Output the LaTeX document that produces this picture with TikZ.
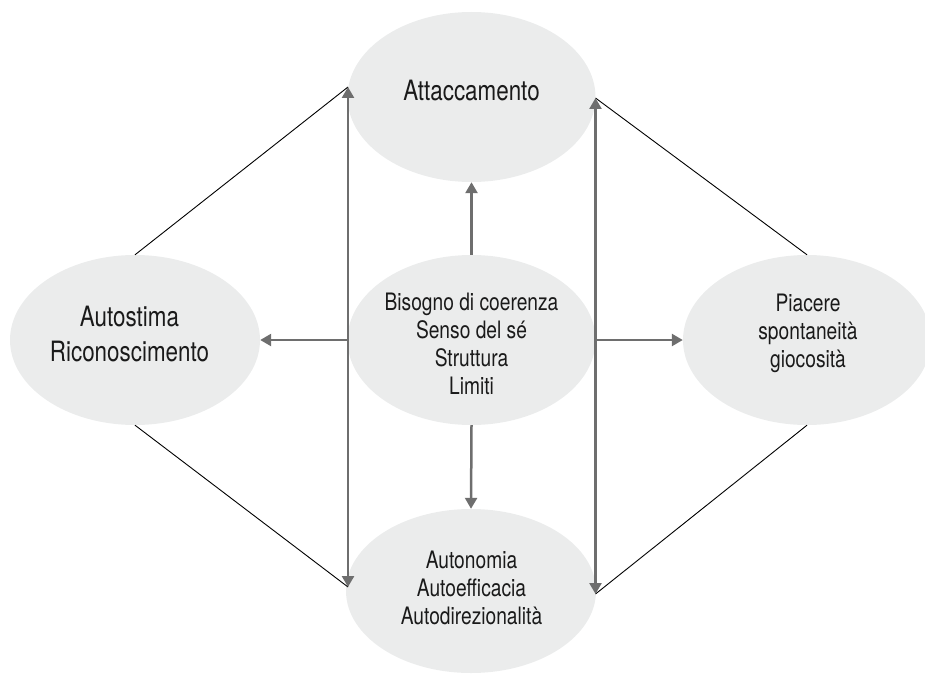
\documentclass[tikz,border=0pt]{standalone}
\usepackage{fontspec}
\setmainfont{TeX Gyre Heros}[FakeStretch=0.8]
\usetikzlibrary{shapes.geometric,arrows.meta}
\definecolor{ellfill}{HTML}{EBECEC}
\definecolor{arrgray}{HTML}{6E6E6E}
\definecolor{txt}{HTML}{1A1A1A}
\tikzset{
  bubble/.style={ellipse,fill=ellfill,draw=none,inner sep=0pt,minimum width=248pt,minimum height=170pt},
  smalltxt/.style={align=center,text=txt,inner sep=0pt,font=\fontsize{24pt}{28pt}\selectfont},
  bigtxt/.style={align=center,text=txt,inner sep=0pt,font=\fontsize{28pt}{35pt}\selectfont},
  garrow/.style={draw=arrgray,line width=2.5pt,-{Triangle[length=11pt,width=12pt]}},
  gdarrow/.style={draw=arrgray,line width=2.5pt,{Triangle[length=11pt,width=12pt]}-{Triangle[length=11pt,width=12pt]}},
  thin/.style={draw=black,line width=0.9pt}
}
\begin{document}
\begin{tikzpicture}[x=1pt,y=-1pt]
\useasboundingbox (0,0) rectangle (925,674);
% ellipses
\node[bubble] (top) at (471.5,97) {};
\node[bubble] (mid) at (471.5,340) {};
\node[bubble,minimum width=250pt,minimum height=164pt] (bot) at (471,591) {};
\node[bubble,minimum width=250pt] (lft) at (135,340) {};
\node[bubble] (rgt) at (807,340) {};
% texts
\node[bigtxt] (ttop) at (471.5,90.5) {Attaccamento};
\node[smalltxt] (tmid) at (471.5,343.5) {Bisogno di coerenza\\Senso del sé\\Struttura\\Limiti};
\node[smalltxt] (tbot) at (471.5,588) {Autonomia\\Autoefficacia\\Autodirezionalità};
\node[bigtxt] (tlft) at (129.5,334) {Autostima\\Riconoscimento};
\node[smalltxt] (trgt) at (808,333) {Piacere\\spontaneità\\giocosità};
% connector coordinates
\coordinate (lt) at (348,87);
\coordinate (lb) at (348,587);
\coordinate (rt) at (595.5,98);
\coordinate (rb) at (595.5,594);
\coordinate (lm) at (348,340);
\coordinate (rm) at (595.5,340);
% thin black lines
\draw[thin] (lt) -- (lft.north);
\draw[thin] (lb) -- (lft.south);
\draw[thin] (rt) -- (rgt.north);
\draw[thin] (rb) -- (rgt.south);
% grey arrows
\draw[gdarrow] (lt) -- (lb);
\draw[gdarrow] (rt) -- (rb);
\draw[garrow] (mid.north) -- (top.south);
\draw[garrow] (mid.south) -- (bot.north);
\draw[garrow] (lm) -- (lft.east);
\draw[garrow] (rm) -- (rgt.west);
\end{tikzpicture}
\end{document}
